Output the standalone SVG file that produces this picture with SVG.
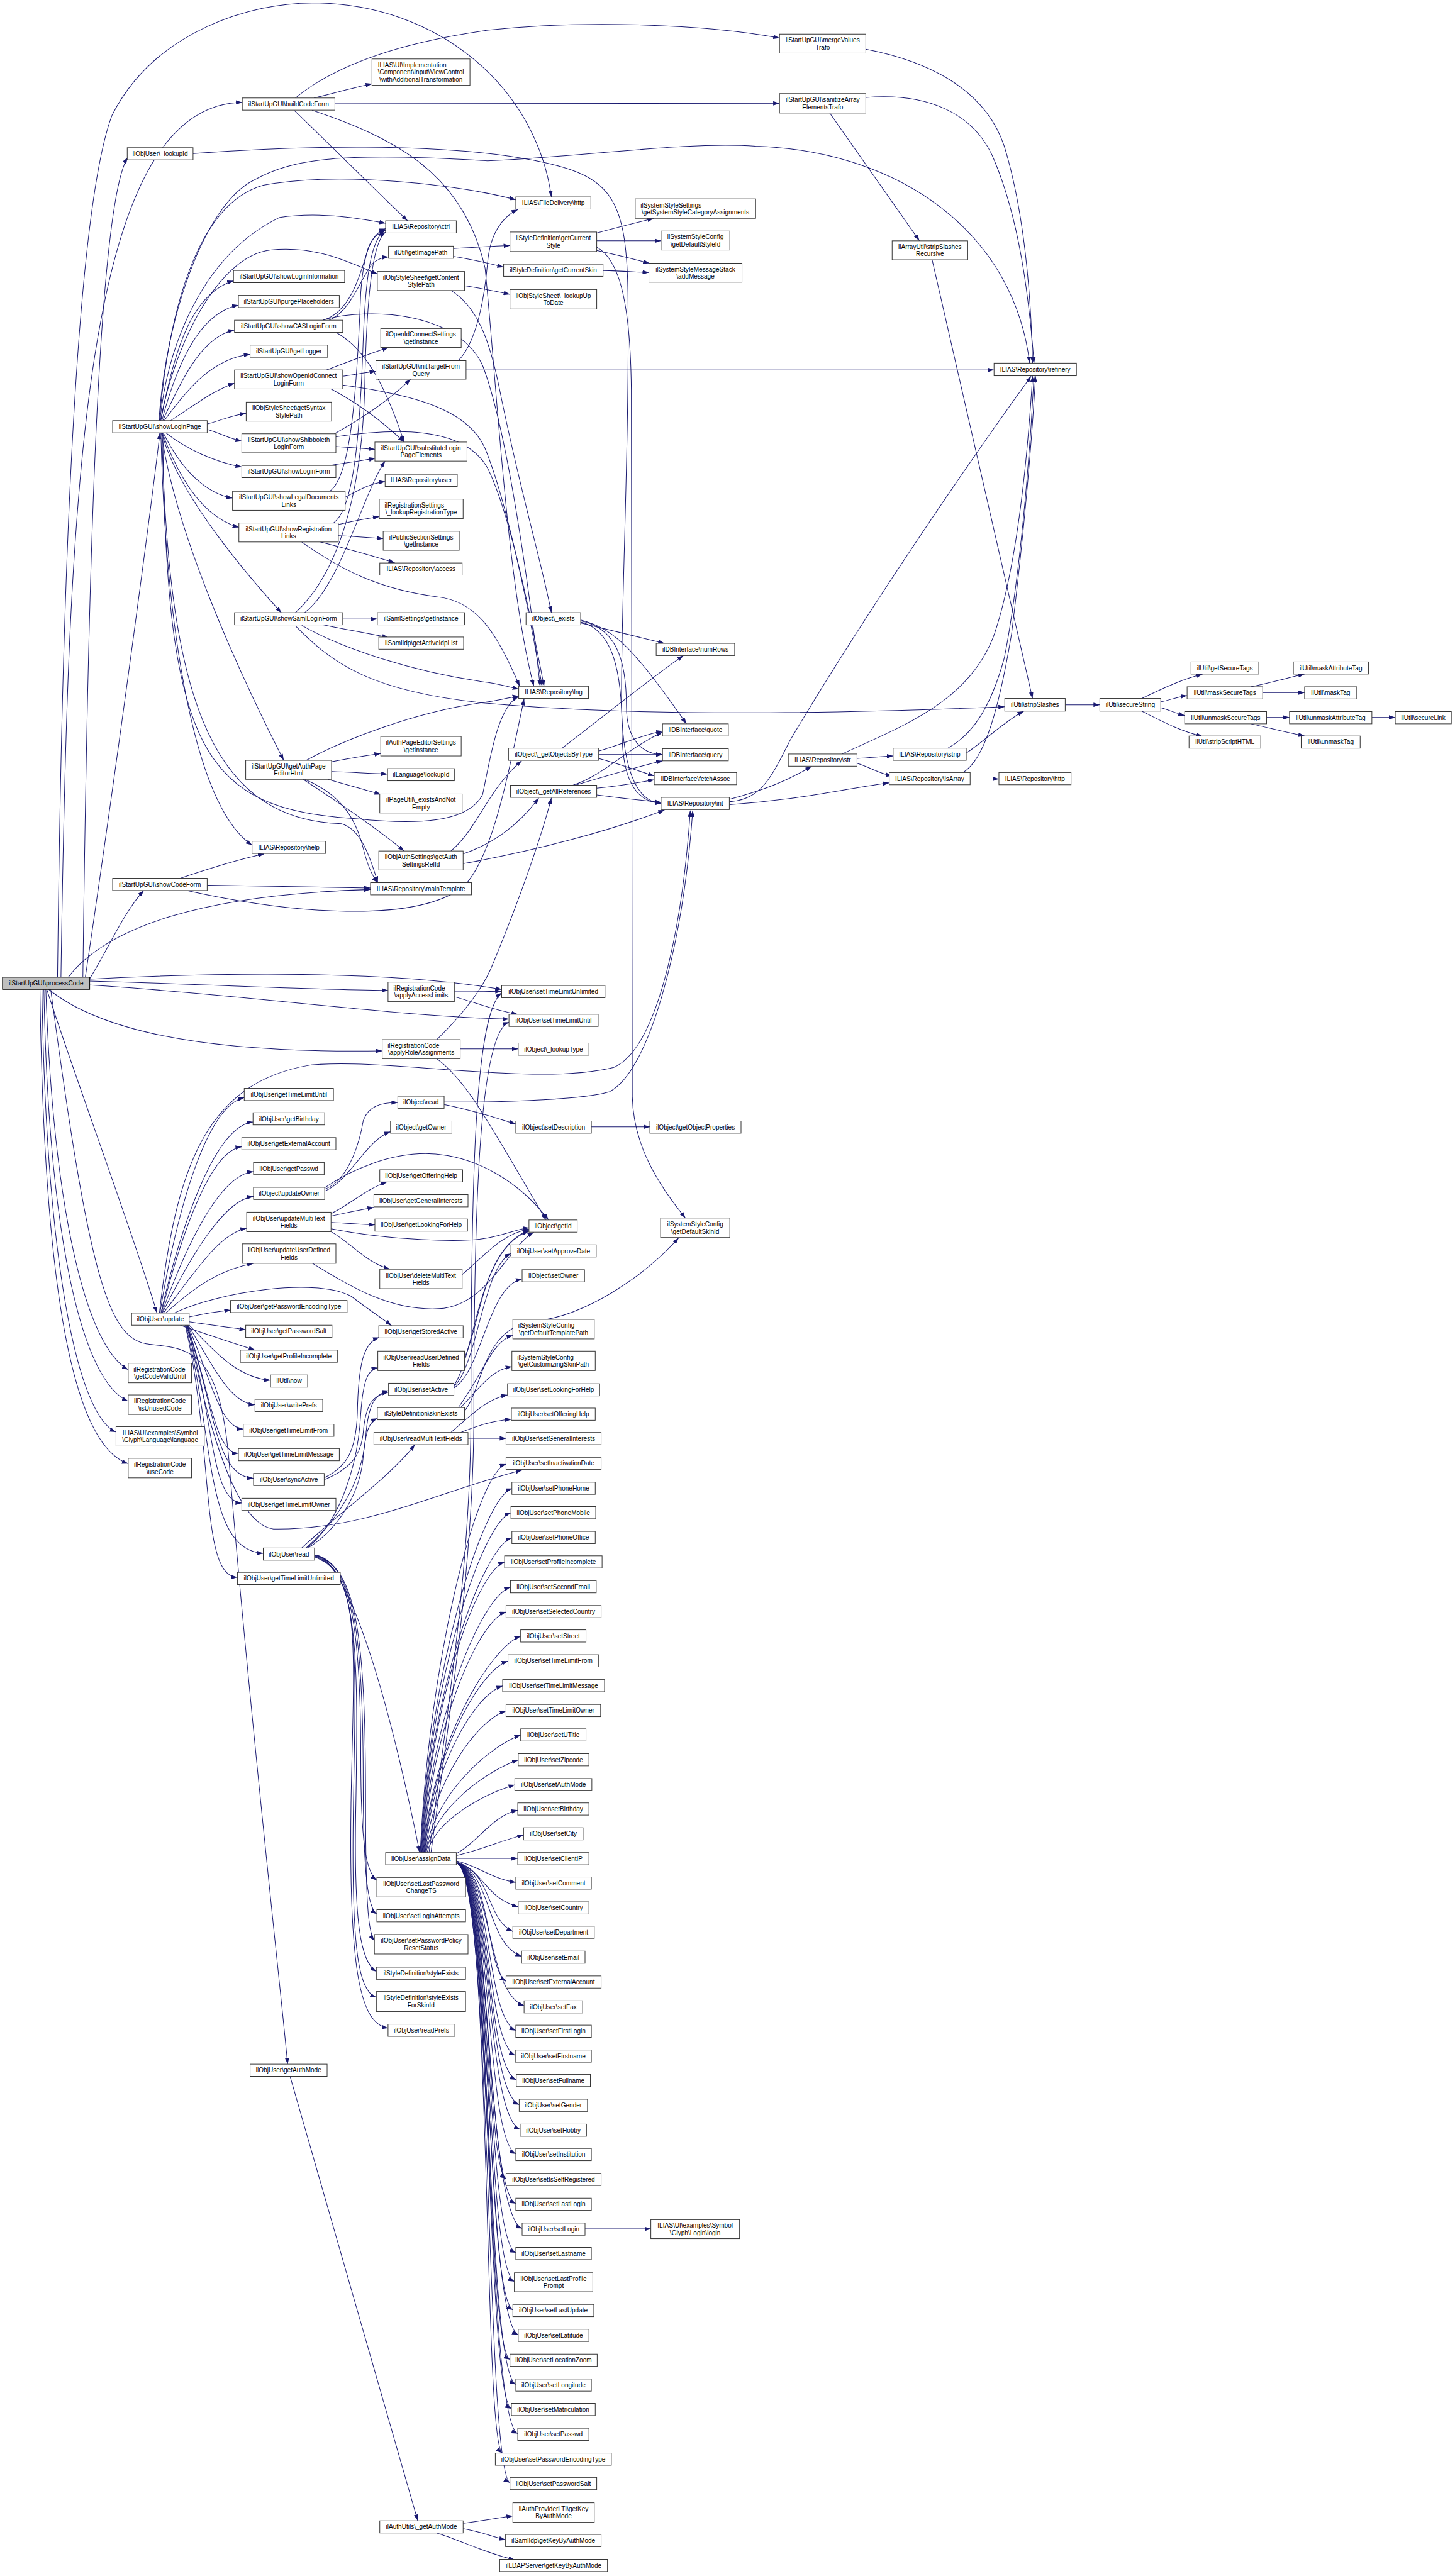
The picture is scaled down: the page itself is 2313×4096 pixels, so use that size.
<svg xmlns="http://www.w3.org/2000/svg" width="2313" height="4096" viewBox="0 0 2313 4096">
<style>
#edges path{fill:none;stroke:#191970;stroke-width:1.3;marker-end:url(#arr)}
#nodes rect{fill:#fff;stroke:#333;stroke-width:1.3}
#nodes text{font-family:"Liberation Sans",Arial,Helvetica,sans-serif;font-size:13px;fill:#000;text-anchor:middle}
#nodes text.l{text-anchor:start}
#n_pc rect{fill:#bfbfbf;stroke:#000}
</style>
<defs>
<marker id="arr" viewBox="0 0 13 9" refX="13" refY="4.5" markerWidth="13" markerHeight="9" markerUnits="userSpaceOnUse" orient="auto"><path d="M0,0 L13,4.5 L0,9 z" fill="#191970"/></marker>
</defs>
<rect width="2313" height="4096" fill="#fff"/>
<g transform="scale(0.775)">
<g id="edges">
<path d="M170,2005 C180,1200 200,420 262,323"/>
<path d="M125,2005 C140,1000 170,215 497,210"/>
<path d="M118,2005 C128,1100 160,420 230,236 C320,60 520,6 640,6 C900,6 1100,180 1131,404"/>
<path d="M175,2005 C250,1500 315,1000 328,888"/>
<path d="M184,2008 C220,1950 255,1870 295,1827"/>
<path d="M140,2005 C220,1900 420,1835 760,1825"/>
<path d="M184,2013 C450,2020 600,2030 796,2032"/>
<path d="M184,2021 C500,2040 800,2085 1044,2091"/>
<path d="M184,2009 C450,1995 800,1990 1029,2030"/>
<path d="M100,2030 C200,2110 400,2162 784,2156"/>
<path d="M96,2030 C150,2200 280,2550 322,2694"/>
<path d="M94,2030 C110,2500 180,2765 263,2810"/>
<path d="M90,2030 C100,2550 170,2835 263,2875"/>
<path d="M86,2030 C95,2600 160,2905 238,2938"/>
<path d="M82,2030 C90,2650 150,2965 263,3003"/>
<path d="M104,2030 C180,2600 220,2745 300,2757 C385,2768 450,2760 470,3000 C510,3500 578,4100 590,4235"/>
<path d="M330,863 C360,700 400,600 479,576"/>
<path d="M332,863 C370,720 420,640 489,626"/>
<path d="M334,863 C380,760 420,690 481,677"/>
<path d="M337,863 C390,790 440,735 513,727"/>
<path d="M350,863 C400,830 440,800 481,786"/>
<path d="M328,863 C345,700 420,520 574,446 C650,435 720,445 791,458"/>
<path d="M329,863 C360,700 450,525 555,513 C650,503 720,540 774,562"/>
<path d="M327,863 C345,650 400,420 540,380 C700,350 950,380 1058,410"/>
<path d="M326,863 C340,650 420,420 520,370 C600,325 700,312 1000,330 C1200,322 1400,290 1550,300 C1850,310 2080,480 2112,745"/>
<path d="M425,870 C460,860 480,851 505,848"/>
<path d="M425,881 C455,890 470,900 496,905"/>
<path d="M340,888 C380,920 440,948 496,958"/>
<path d="M335,888 C370,960 420,1012 477,1022"/>
<path d="M333,888 C370,990 420,1062 490,1082"/>
<path d="M332,888 C360,1000 480,1150 577,1257"/>
<path d="M331,888 C360,1100 500,1400 582,1560"/>
<path d="M330,888 C340,1300 400,1655 517,1734"/>
<path d="M332,888 C345,1400 420,1682 700,1690 C740,1700 760,1760 775,1811"/>
<path d="M334,888 C340,1550 420,1660 733,1680 C850,1692 960,1690 990,1630 C1005,1560 1020,1450 1064,1429"/>
<path d="M644,201 C690,190 720,181 763,172"/>
<path d="M606,201 C680,140 800,90 1000,62 C1200,40 1450,50 1599,78"/>
<path d="M687,213 C1000,213 1300,212 1599,212"/>
<path d="M603,226 C680,300 780,400 836,453"/>
<path d="M640,226 C800,280 950,350 995,550 C1020,800 1040,1200 1095,1408"/>
<path d="M396,315 C600,300 900,290 1100,330 C1250,360 1285,400 1288,600 C1292,900 1272,1300 1275,1450 C1278,1600 1315,1646 1356,1648"/>
<path d="M1224,507 C1265,530 1293,600 1295,800 L1297,2250 C1299,2350 1350,2430 1406,2499"/>
<path d="M1224,478 C1260,468 1300,458 1341,448"/>
<path d="M1224,494 C1280,494 1310,494 1356,494"/>
<path d="M1224,514 C1270,524 1300,532 1332,540"/>
<path d="M1237,555 C1280,556 1300,558 1331,559"/>
<path d="M930,510 C980,507 1010,505 1046,504"/>
<path d="M930,526 C970,532 1000,540 1033,548"/>
<path d="M940,740 C980,700 995,600 1000,540 C1005,480 1030,445 1062,430"/>
<path d="M953,586 C990,592 1020,598 1046,604"/>
<path d="M925,596 C980,630 1005,700 1025,800 C1065,1000 1110,1150 1131,1257"/>
<path d="M663,657 C720,640 740,560 755,510 C762,490 775,478 791,473"/>
<path d="M675,657 C720,640 745,560 765,540 C775,531 785,528 797,527"/>
<path d="M689,682 C760,720 800,820 829,907"/>
<path d="M663,656 C760,630 940,640 990,750 C1040,880 1085,1200 1108,1408"/>
<path d="M670,759 C720,740 760,725 797,713"/>
<path d="M703,772 C730,768 750,764 771,762"/>
<path d="M679,798 C740,830 790,870 829,907"/>
<path d="M703,790 C850,810 960,840 995,920 C1040,1030 1085,1250 1112,1408"/>
<path d="M686,890 C740,860 800,820 842,778"/>
<path d="M689,916 C720,918 745,920 769,922"/>
<path d="M689,896 C800,880 950,870 1000,960 C1050,1060 1095,1300 1116,1408"/>
<path d="M676,955 C720,948 750,944 770,940"/>
<path d="M956,759 L2039,759"/>
<path d="M708,1020 C740,1003 760,992 790,988"/>
<path d="M676,1008 C720,980 732,800 740,600 C746,520 760,480 791,469"/>
<path d="M694,1076 C730,1068 750,1064 778,1060"/>
<path d="M694,1099 C730,1101 760,1103 786,1105"/>
<path d="M657,1112 C720,1128 770,1142 810,1155"/>
<path d="M684,1073 C725,1045 738,900 745,700 C750,560 762,490 791,471"/>
<path d="M619,1112 C700,1170 780,1210 900,1225 C980,1235 1020,1300 1066,1408"/>
<path d="M703,1270 L774,1270"/>
<path d="M663,1282 C710,1292 760,1300 797,1308"/>
<path d="M606,1257 C700,1170 742,1000 748,800 C752,600 765,495 791,476"/>
<path d="M625,1257 C700,1200 745,1010 790,946"/>
<path d="M619,1283 C700,1330 850,1380 1000,1400 C1030,1405 1048,1410 1064,1414"/>
<path d="M606,1284 C680,1360 760,1420 1000,1443 C1300,1470 1700,1465 2061,1450"/>
<path d="M680,1563 C720,1555 750,1550 781,1546"/>
<path d="M680,1583 C730,1585 760,1587 795,1588"/>
<path d="M673,1599 C710,1610 750,1620 781,1630"/>
<path d="M622,1599 C700,1650 780,1705 829,1746"/>
<path d="M625,1599 C700,1630 730,1680 745,1740 C755,1780 765,1800 775,1811"/>
<path d="M628,1560 C700,1520 850,1460 1000,1440 C1030,1436 1048,1430 1064,1428"/>
<path d="M925,1746 C980,1700 1000,1620 1070,1561"/>
<path d="M950,1752 C1000,1735 1060,1700 1105,1637"/>
<path d="M950,1772 C1100,1745 1250,1705 1363,1662"/>
<path d="M370,1802 C420,1785 480,1765 542,1752"/>
<path d="M425,1816 C550,1818 650,1820 760,1822"/>
<path d="M383,1827 C600,1875 850,1895 950,1820 C1010,1760 1040,1600 1075,1434"/>
<path d="M1191,1278 C1260,1295 1320,1310 1363,1320"/>
<path d="M1191,1272 C1260,1290 1300,1330 1408,1485"/>
<path d="M1191,1274 C1262,1288 1285,1350 1285,1450 C1285,1520 1320,1548 1359,1548"/>
<path d="M1191,1276 C1258,1292 1276,1380 1276,1500 C1276,1610 1310,1646 1356,1648"/>
<path d="M1153,1535 C1250,1460 1350,1380 1402,1345"/>
<path d="M1228,1541 C1290,1522 1320,1507 1359,1500"/>
<path d="M1228,1548 C1280,1548 1310,1548 1359,1548"/>
<path d="M1228,1556 C1280,1570 1310,1582 1342,1592"/>
<path d="M1175,1611 C1240,1590 1280,1540 1359,1502"/>
<path d="M1180,1611 C1250,1590 1300,1575 1359,1561"/>
<path d="M1224,1617 C1280,1612 1310,1605 1342,1600"/>
<path d="M1224,1631 C1280,1638 1320,1643 1356,1646"/>
<path d="M1496,1640 C1570,1620 1620,1600 1665,1572"/>
<path d="M1496,1651 C1650,1640 1750,1615 1824,1606"/>
<path d="M1496,1645 C1560,1640 1580,1600 1620,1520 C1750,1300 1950,1000 2115,772"/>
<path d="M1758,1556 C1790,1554 1810,1552 1832,1551"/>
<path d="M1758,1566 C1790,1576 1800,1586 1830,1592"/>
<path d="M1727,1547 C1850,1490 1990,1440 2040,1300 C2090,1150 2110,900 2118,772"/>
<path d="M1982,1545 C2020,1520 2060,1480 2100,1459"/>
<path d="M1944,1535 C1990,1510 2030,1460 2060,1350 C2090,1200 2112,950 2121,772"/>
<path d="M1990,1598 L2049,1598"/>
<path d="M1975,1585 C2020,1560 2050,1450 2075,1300 C2100,1100 2117,900 2124,772"/>
<path d="M1776,101 C1900,125 2020,180 2060,300 C2100,430 2115,600 2118,745"/>
<path d="M1776,200 C1900,190 2000,230 2040,330 C2090,450 2110,600 2121,745"/>
<path d="M1702,232 L1886,494"/>
<path d="M1912,533 L2118,1433"/>
<path d="M2185,1446 L2256,1446"/>
<path d="M2342,1433 C2380,1415 2420,1395 2467,1383"/>
<path d="M2381,1440 C2400,1436 2415,1430 2435,1427"/>
<path d="M2381,1452 C2400,1458 2415,1464 2430,1468"/>
<path d="M2342,1459 C2380,1478 2420,1500 2467,1511"/>
<path d="M2566,1409 C2610,1400 2640,1391 2676,1383"/>
<path d="M2590,1421 L2676,1421"/>
<path d="M2598,1472 L2645,1472"/>
<path d="M2566,1485 C2610,1495 2640,1503 2676,1510"/>
<path d="M2814,1472 L2862,1472"/>
<path d="M932,2035 C980,2035 1000,2034 1029,2034"/>
<path d="M932,2045 C980,2058 1010,2072 1062,2081"/>
<path d="M944,2152 L1063,2152"/>
<path d="M896,2172 C960,2220 1000,2300 1120,2503"/>
<path d="M896,2133 C950,2080 990,2030 1010,1980 C1060,1860 1110,1720 1131,1637"/>
<path d="M911,2266 C980,2280 1020,2295 1058,2306"/>
<path d="M911,2261 C1050,2262 1200,2255 1250,2240 C1330,2200 1400,1950 1421,1663"/>
<path d="M1213,2312 L1333,2312"/>
<path d="M666,2440 C720,2420 740,2330 745,2300 C755,2270 780,2262 816,2262"/>
<path d="M666,2444 C720,2420 750,2340 801,2322"/>
<path d="M666,2437 C720,2400 800,2365 880,2367 C980,2370 1070,2430 1125,2503"/>
<path d="M679,2490 C720,2470 750,2440 794,2425"/>
<path d="M679,2495 C710,2488 740,2482 767,2477"/>
<path d="M679,2508 C720,2510 740,2512 769,2513"/>
<path d="M679,2527 C720,2550 750,2590 800,2604"/>
<path d="M679,2521 C800,2545 950,2550 1000,2540 C1040,2532 1060,2522 1085,2519"/>
<path d="M641,2592 C720,2640 800,2690 900,2685 C1000,2680 1040,2560 1095,2528"/>
<path d="M948,2615 C990,2580 1030,2530 1085,2522"/>
<path d="M953,2785 C985,2720 990,2560 1085,2524"/>
<path d="M931,2845 C980,2800 990,2600 1048,2572"/>
<path d="M931,2848 C990,2810 1000,2640 1071,2624"/>
<path d="M931,2843 C975,2780 980,2560 1085,2526"/>
<path d="M953,2895 C990,2850 990,2720 1100,2710 C1200,2700 1320,2620 1392,2540"/>
<path d="M940,2888 C990,2820 1010,2750 1052,2740"/>
<path d="M945,2888 C990,2840 1010,2810 1050,2804"/>
<path d="M925,2939 C970,2900 1000,2870 1041,2862"/>
<path d="M945,2939 C980,2925 1010,2915 1049,2912"/>
<path d="M960,2951 L1038,2951"/>
<path d="M328,2694 C360,2500 420,2270 501,2252"/>
<path d="M330,2694 C370,2520 440,2310 519,2302"/>
<path d="M331,2694 C370,2540 430,2360 496,2353"/>
<path d="M332,2694 C380,2560 450,2410 520,2404"/>
<path d="M333,2694 C390,2580 460,2460 520,2455"/>
<path d="M335,2694 C400,2610 450,2530 506,2520"/>
<path d="M340,2694 C400,2640 450,2605 520,2592"/>
<path d="M327,2694 C360,2400 420,2220 638,2185 C800,2170 1100,2230 1259,2190 C1350,2150 1400,1900 1416,1663"/>
<path d="M357,2694 C450,2650 650,2620 721,2660 C760,2690 785,2705 803,2720"/>
<path d="M388,2702 C420,2695 440,2691 473,2688"/>
<path d="M388,2712 C430,2718 470,2724 504,2728"/>
<path d="M370,2719 C430,2740 480,2756 523,2770"/>
<path d="M386,2717 C430,2760 480,2826 555,2832"/>
<path d="M386,2719 C430,2790 470,2880 523,2882"/>
<path d="M385,2719 C430,2820 450,2930 499,2932"/>
<path d="M384,2719 C430,2850 440,2980 489,2982"/>
<path d="M383,2719 C440,2880 440,3030 520,3033"/>
<path d="M382,2719 C440,2900 430,3080 496,3084"/>
<path d="M381,2719 C440,2950 420,3180 540,3187"/>
<path d="M380,2719 C440,2980 410,3235 487,3236"/>
<path d="M385,2719 C440,3000 500,3130 561,3137 C750,3140 900,3060 1071,3016"/>
<path d="M619,3176 C700,3100 800,3030 851,2964"/>
<path d="M628,3176 C690,3120 740,3050 750,2950 C755,2880 770,2860 797,2853"/>
<path d="M630,3176 C700,3120 735,3000 740,2900 C745,2830 755,2810 775,2806"/>
<path d="M632,3176 C705,3130 740,3050 745,2990 C750,2930 760,2916 774,2910"/>
<path d="M645,3190 C700,3195 780,3400 861,3801"/>
<path d="M645,3190 C720,3200 740,3350 740,3600 C740,3780 750,3840 773,3858"/>
<path d="M645,3191 C725,3205 745,3350 745,3650 C745,3850 755,3915 773,3927"/>
<path d="M645,3192 C730,3210 750,3350 750,3700 C750,3900 755,3965 768,3982"/>
<path d="M645,3193 C735,3215 735,3400 730,3700 C725,3950 740,4025 772,4045"/>
<path d="M645,3194 C740,3220 730,3400 725,3700 C720,4000 735,4085 772,4098"/>
<path d="M645,3195 C745,3225 725,3400 720,3700 C715,4050 740,4152 796,4161"/>
<path d="M665,3032 C710,3010 730,2980 733,2900 C735,2800 745,2755 778,2744"/>
<path d="M665,3036 C715,3015 740,2990 745,2940 C750,2880 765,2862 797,2856"/>
<path d="M595,4260 L857,5172"/>
<path d="M950,5177 C990,5172 1020,5166 1052,5162"/>
<path d="M950,5188 C990,5195 1010,5205 1037,5211"/>
<path d="M896,5197 C940,5210 1000,5240 1056,5252"/>
<path d="M1200,4573 L1335,4573"/>
<path d="M880,3801 C920,3500 966,3200 966,2900 C966,2400 975,2080 1029,2037"/>
<path d="M884,3801 C925,3500 972,3200 972,2900 C972,2450 985,2120 1044,2097"/>
<path d="M862,3801 C880,3402 978,3023 1038,3004"/>
<path d="M863,3801 C880,3427 990,3074 1050,3054"/>
<path d="M864,3801 C880,3452 988,3124 1048,3104"/>
<path d="M865,3801 C880,3478 990,3175 1050,3155"/>
<path d="M866,3801 C882,3503 975,3225 1035,3205"/>
<path d="M867,3801 C882,3528 987,3276 1047,3256"/>
<path d="M868,3801 C884,3554 978,3327 1038,3307"/>
<path d="M869,3801 C884,3579 1008,3377 1068,3357"/>
<path d="M870,3801 C886,3604 982,3428 1042,3408"/>
<path d="M871,3801 C886,3630 971,3479 1031,3459"/>
<path d="M872,3801 C888,3655 978,3530 1038,3510"/>
<path d="M873,3801 C890,3680 1008,3580 1068,3560"/>
<path d="M874,3801 C892,3706 1003,3631 1063,3611"/>
<path d="M876,3801 C895,3731 996,3680 1056,3662"/>
<path d="M936,3803 C980,3780 1010,3725 1062,3714"/>
<path d="M936,3807 C990,3795 1030,3775 1074,3765"/>
<path d="M936,3813 L1062,3813"/>
<path d="M936,3818 C980,3828 1010,3855 1058,3862"/>
<path d="M936,3820 C990,3835 995,3895 1063,3912"/>
<path d="M936,3822 C1010,3840 995,3935 1052,3963"/>
<path d="M936,3822 C1010,3840 995,3986 1070,4014"/>
<path d="M936,3822 C1010,3840 995,4037 1038,4065"/>
<path d="M936,3822 C1010,3840 995,4087 1075,4115"/>
<path d="M936,3822 C1010,3840 995,4138 1058,4166"/>
<path d="M936,3822 C1010,3840 995,4189 1057,4217"/>
<path d="M936,3822 C1010,3840 995,4239 1059,4267"/>
<path d="M936,3822 C1010,3840 995,4290 1065,4318"/>
<path d="M936,3822 C1010,3840 995,4341 1067,4369"/>
<path d="M936,3822 C1010,3840 995,4391 1058,4419"/>
<path d="M936,3822 C1010,3840 995,4442 1038,4470"/>
<path d="M936,3822 C1010,3840 995,4493 1058,4521"/>
<path d="M936,3822 C1010,3840 995,4544 1071,4572"/>
<path d="M936,3822 C1010,3840 995,4594 1058,4622"/>
<path d="M936,3822 C1010,3840 995,4653 1055,4681"/>
<path d="M936,3822 C1010,3840 995,4711 1052,4739"/>
<path d="M936,3822 C1010,3840 995,4762 1063,4790"/>
<path d="M936,3822 C1010,3840 995,4813 1046,4841"/>
<path d="M936,3822 C1010,3840 995,4864 1058,4892"/>
<path d="M936,3822 C1010,3840 995,4914 1049,4942"/>
<path d="M936,3822 C1010,3840 995,4965 1062,4993"/>
<path d="M936,3822 C1010,3840 990,5000 1030,5033"/>
<path d="M936,3822 C1010,3840 995,5066 1046,5094"/>
</g>
<g id="nodes">
<g id="n_pc"><rect x="5" y="2005" width="179" height="25"/><text x="94.5" y="2022">ilStartUpGUI\processCode</text></g>
<g id="n_lookupId"><rect x="261" y="303" width="135" height="25"/><text x="328.5" y="320">ilObjUser\_lookupId</text></g>
<g id="n_build"><rect x="497" y="201" width="190" height="25"/><text x="592" y="218">ilStartUpGUI\buildCodeForm</text></g>
<g id="n_slp"><rect x="231" y="863" width="194" height="25"/><text x="328" y="880">ilStartUpGUI\showLoginPage</text></g>
<g id="n_scf"><rect x="231" y="1802" width="194" height="25"/><text x="328" y="1819">ilStartUpGUI\showCodeForm</text></g>
<g id="n_upd"><rect x="270" y="2694" width="118" height="25"/><text x="329" y="2711">ilObjUser\update</text></g>
<g id="n_cvu"><rect x="263" y="2797" width="130" height="40"/><text class="l" x="274" y="2814.3">ilRegistrationCode</text><text x="328" y="2829">\getCodeValidUntil</text></g>
<g id="n_iuc"><rect x="263" y="2862" width="130" height="40"/><text x="328" y="2879.3">ilRegistrationCode</text><text x="328" y="2894">\isUnusedCode</text></g>
<g id="n_lang"><rect x="238" y="2927" width="181" height="40"/><text x="328.5" y="2944.3">ILIAS\UI\examples\Symbol</text><text x="328.5" y="2959">\Glyph\Language\language</text></g>
<g id="n_use"><rect x="263" y="2992" width="130" height="40"/><text x="328" y="3009.3">ilRegistrationCode</text><text x="328" y="3024">\useCode</text></g>
<g id="n_wat"><rect x="763" y="121" width="201" height="54"/><text class="l" x="775" y="137.9">ILIAS\UI\Implementation</text><text class="l" x="775" y="152.6">\Component\Input\ViewControl</text><text x="863.5" y="167.3">\withAdditionalTransformation</text></g>
<g id="n_sli"><rect x="479" y="555" width="228" height="25"/><text x="593" y="572">ilStartUpGUI\showLoginInformation</text></g>
<g id="n_pp"><rect x="489" y="606" width="207" height="25"/><text x="592.5" y="623">ilStartUpGUI\purgePlaceholders</text></g>
<g id="n_cas"><rect x="481" y="657" width="222" height="25"/><text x="592" y="674">ilStartUpGUI\showCASLoginForm</text></g>
<g id="n_log"><rect x="513" y="708" width="159" height="25"/><text x="592.5" y="725">ilStartUpGUI\getLogger</text></g>
<g id="n_oidc"><rect x="481" y="759" width="222" height="39"/><text x="592" y="775.8">ilStartUpGUI\showOpenIdConnect</text><text x="592" y="790.5">LoginForm</text></g>
<g id="n_syn"><rect x="505" y="825" width="175" height="39"/><text x="592.5" y="841.8">ilObjStyleSheet\getSyntax</text><text x="592.5" y="856.5">StylePath</text></g>
<g id="n_shib"><rect x="496" y="890" width="193" height="39"/><text x="592.5" y="906.8">ilStartUpGUI\showShibboleth</text><text x="592.5" y="921.5">LoginForm</text></g>
<g id="n_slf"><rect x="496" y="955" width="193" height="25"/><text x="592.5" y="972">ilStartUpGUI\showLoginForm</text></g>
<g id="n_legal"><rect x="477" y="1008" width="231" height="39"/><text x="592.5" y="1024.8">ilStartUpGUI\showLegalDocuments</text><text x="592.5" y="1039.5">Links</text></g>
<g id="n_reg"><rect x="490" y="1073" width="204" height="39"/><text x="592" y="1089.8">ilStartUpGUI\showRegistration</text><text x="592" y="1104.5">Links</text></g>
<g id="n_saml"><rect x="481" y="1257" width="222" height="25"/><text x="592" y="1274">ilStartUpGUI\showSamlLoginForm</text></g>
<g id="n_apeh"><rect x="504" y="1560" width="176" height="39"/><text x="592" y="1576.8">ilStartUpGUI\getAuthPage</text><text x="592" y="1591.5">EditorHtml</text></g>
<g id="n_help"><rect x="517" y="1726" width="151" height="25"/><text x="592.5" y="1743">ILIAS\Repository\help</text></g>
<g id="n_gtlu"><rect x="501" y="2233" width="183" height="25"/><text x="592.5" y="2250">ilObjUser\getTimeLimitUntil</text></g>
<g id="n_gbd"><rect x="519" y="2283" width="147" height="25"/><text x="592.5" y="2300">ilObjUser\getBirthday</text></g>
<g id="n_gea"><rect x="496" y="2334" width="193" height="25"/><text x="592.5" y="2351">ilObjUser\getExternalAccount</text></g>
<g id="n_gpw"><rect x="520" y="2385" width="145" height="25"/><text x="592.5" y="2402">ilObjUser\getPasswd</text></g>
<g id="n_uo"><rect x="520" y="2436" width="146" height="25"/><text x="593" y="2453">ilObject\updateOwner</text></g>
<g id="n_umtf"><rect x="506" y="2487" width="173" height="40"/><text x="592.5" y="2504.3">ilObjUser\updateMultiText</text><text x="592.5" y="2519">Fields</text></g>
<g id="n_uudf"><rect x="497" y="2552" width="192" height="40"/><text x="593" y="2569.3">ilObjUser\updateUserDefined</text><text x="593" y="2584">Fields</text></g>
<g id="n_gpet"><rect x="473" y="2668" width="239" height="25"/><text x="592.5" y="2685">ilObjUser\getPasswordEncodingType</text></g>
<g id="n_gps"><rect x="504" y="2719" width="177" height="25"/><text x="592.5" y="2736">ilObjUser\getPasswordSalt</text></g>
<g id="n_gpi"><rect x="493" y="2770" width="199" height="25"/><text x="592.5" y="2787">ilObjUser\getProfileIncomplete</text></g>
<g id="n_now"><rect x="555" y="2821" width="76" height="25"/><text x="593" y="2838">ilUtil\now</text></g>
<g id="n_wp"><rect x="523" y="2871" width="139" height="25"/><text x="592.5" y="2888">ilObjUser\writePrefs</text></g>
<g id="n_gtlf"><rect x="499" y="2922" width="186" height="25"/><text x="592" y="2939">ilObjUser\getTimeLimitFrom</text></g>
<g id="n_gtlm"><rect x="489" y="2972" width="207" height="25"/><text x="592.5" y="2989">ilObjUser\getTimeLimitMessage</text></g>
<g id="n_sync"><rect x="520" y="3023" width="145" height="25"/><text x="592.5" y="3040">ilObjUser\syncActive</text></g>
<g id="n_gtlo"><rect x="496" y="3074" width="193" height="25"/><text x="592.5" y="3091">ilObjUser\getTimeLimitOwner</text></g>
<g id="n_uread"><rect x="540" y="3176" width="105" height="25"/><text x="592.5" y="3193">ilObjUser\read</text></g>
<g id="n_gtlun"><rect x="487" y="3226" width="211" height="25"/><text x="592.5" y="3243">ilObjUser\getTimeLimitUnlimited</text></g>
<g id="n_gam"><rect x="513" y="4235" width="158" height="25"/><text x="592" y="4252">ilObjUser\getAuthMode</text></g>
<g id="n_ctrl"><rect x="791" y="453" width="145" height="25"/><text x="863.5" y="470">ILIAS\Repository\ctrl</text></g>
<g id="n_gip"><rect x="797" y="505" width="133" height="25"/><text x="863.5" y="522">ilUtil\getImagePath</text></g>
<g id="n_gcsp"><rect x="774" y="557" width="179" height="39"/><text x="863.5" y="573.8">ilObjStyleSheet\getContent</text><text x="863.5" y="588.5">StylePath</text></g>
<g id="n_oidcgi"><rect x="781" y="674" width="165" height="39"/><text x="863.5" y="690.8">ilOpenIdConnectSettings</text><text x="863.5" y="705.5">\getInstance</text></g>
<g id="n_itfq"><rect x="771" y="740" width="185" height="38"/><text x="863.5" y="756.3">ilStartUpGUI\initTargetFrom</text><text x="863.5" y="771">Query</text></g>
<g id="n_slpe"><rect x="769" y="907" width="189" height="39"/><text x="863.5" y="923.8">ilStartUpGUI\substituteLogin</text><text x="863.5" y="938.5">PageElements</text></g>
<g id="n_user"><rect x="790" y="973" width="148" height="25"/><text x="864" y="990">ILIAS\Repository\user</text></g>
<g id="n_lrt"><rect x="778" y="1024" width="172" height="40"/><text class="l" x="789" y="1041.3">ilRegistrationSettings</text><text x="864" y="1056">\_lookupRegistrationType</text></g>
<g id="n_psgi"><rect x="786" y="1090" width="156" height="39"/><text x="864" y="1106.8">ilPublicSectionSettings</text><text x="864" y="1121.5">\getInstance</text></g>
<g id="n_access"><rect x="779" y="1155" width="169" height="25"/><text x="863.5" y="1172">ILIAS\Repository\access</text></g>
<g id="n_ssgi"><rect x="774" y="1257" width="179" height="25"/><text x="863.5" y="1274">ilSamlSettings\getInstance</text></g>
<g id="n_gail"><rect x="777" y="1307" width="174" height="25"/><text x="864" y="1324">ilSamlIdp\getActiveIdpList</text></g>
<g id="n_apes"><rect x="781" y="1511" width="165" height="40"/><text x="863.5" y="1528.3">ilAuthPageEditorSettings</text><text x="863.5" y="1543">\getInstance</text></g>
<g id="n_lid"><rect x="795" y="1577" width="137" height="25"/><text x="863.5" y="1594">ilLanguage\lookupId</text></g>
<g id="n_pu"><rect x="779" y="1629" width="169" height="39"/><text x="863.5" y="1645.8">ilPageUtil\_existsAndNot</text><text x="863.5" y="1660.5">Empty</text></g>
<g id="n_gasr"><rect x="777" y="1746" width="173" height="39"/><text x="863.5" y="1762.8">ilObjAuthSettings\getAuth</text><text x="863.5" y="1777.5">SettingsRefId</text></g>
<g id="n_mt"><rect x="760" y="1811" width="207" height="25"/><text x="863.5" y="1828">ILIAS\Repository\mainTemplate</text></g>
<g id="n_aal"><rect x="796" y="2015" width="136" height="40"/><text class="l" x="807" y="2032.3">ilRegistrationCode</text><text x="864" y="2047">\applyAccessLimits</text></g>
<g id="n_ara"><rect x="784" y="2133" width="160" height="39"/><text class="l" x="795" y="2149.8">ilRegistrationCode</text><text x="864" y="2164.5">\applyRoleAssignments</text></g>
<g id="n_oread"><rect x="816" y="2249" width="95" height="25"/><text x="863.5" y="2266">ilObject\read</text></g>
<g id="n_gown"><rect x="801" y="2300" width="126" height="25"/><text x="864" y="2317">ilObject\getOwner</text></g>
<g id="n_goh"><rect x="779" y="2400" width="170" height="25"/><text x="864" y="2417">ilObjUser\getOfferingHelp</text></g>
<g id="n_ggi"><rect x="767" y="2451" width="193" height="25"/><text x="863.5" y="2468">ilObjUser\getGeneralInterests</text></g>
<g id="n_glfh"><rect x="769" y="2501" width="190" height="25"/><text x="864" y="2518">ilObjUser\getLookingForHelp</text></g>
<g id="n_dmtf"><rect x="779" y="2604" width="169" height="40"/><text x="863.5" y="2621.3">ilObjUser\deleteMultiText</text><text x="863.5" y="2636">Fields</text></g>
<g id="n_gsa"><rect x="777" y="2720" width="173" height="25"/><text x="863.5" y="2737">ilObjUser\getStoredActive</text></g>
<g id="n_rudf"><rect x="775" y="2772" width="178" height="40"/><text x="864" y="2789.3">ilObjUser\readUserDefined</text><text x="864" y="2804">Fields</text></g>
<g id="n_sa"><rect x="797" y="2838" width="134" height="25"/><text x="864" y="2855">ilObjUser\setActive</text></g>
<g id="n_se"><rect x="774" y="2888" width="179" height="25"/><text x="863.5" y="2905">ilStyleDefinition\skinExists</text></g>
<g id="n_rmtf"><rect x="767" y="2939" width="193" height="25"/><text x="863.5" y="2956">ilObjUser\readMultiTextFields</text></g>
<g id="n_ad"><rect x="791" y="3801" width="145" height="25"/><text x="863.5" y="3818">ilObjUser\assignData</text></g>
<g id="n_slpc"><rect x="773" y="3852" width="182" height="40"/><text x="864" y="3869.3">ilObjUser\setLastPassword</text><text x="864" y="3884">ChangeTS</text></g>
<g id="n_sla"><rect x="773" y="3918" width="182" height="25"/><text x="864" y="3935">ilObjUser\setLoginAttempts</text></g>
<g id="n_sprs"><rect x="768" y="3969" width="192" height="40"/><text x="864" y="3986.3">ilObjUser\setPasswordPolicy</text><text x="864" y="4001">ResetStatus</text></g>
<g id="n_stex"><rect x="772" y="4036" width="183" height="25"/><text x="863.5" y="4053">ilStyleDefinition\styleExists</text></g>
<g id="n_stexs"><rect x="772" y="4086" width="183" height="41"/><text x="863.5" y="4103.8">ilStyleDefinition\styleExists</text><text x="863.5" y="4118.5">ForSkinId</text></g>
<g id="n_rp"><rect x="796" y="4153" width="137" height="25"/><text x="864.5" y="4170">ilObjUser\readPrefs</text></g>
<g id="n_gam2"><rect x="779" y="5172" width="171" height="25"/><text x="864.5" y="5189">ilAuthUtils\_getAuthMode</text></g>
<g id="n_fdh"><rect x="1058" y="404" width="154" height="25"/><text x="1135" y="421">ILIAS\FileDelivery\http</text></g>
<g id="n_gcs"><rect x="1046" y="476" width="178" height="40"/><text x="1135" y="493.3">ilStyleDefinition\getCurrent</text><text x="1135" y="508">Style</text></g>
<g id="n_gcsk"><rect x="1033" y="542" width="204" height="25"/><text x="1135" y="559">ilStyleDefinition\getCurrentSkin</text></g>
<g id="n_luut"><rect x="1046" y="594" width="178" height="40"/><text x="1135" y="611.3">ilObjStyleSheet\_lookupUp</text><text x="1135" y="626">ToDate</text></g>
<g id="n_ex"><rect x="1079" y="1257" width="112" height="25"/><text x="1135" y="1274">ilObject\_exists</text></g>
<g id="n_lng"><rect x="1064" y="1408" width="143" height="25"/><text x="1135.5" y="1425">ILIAS\Repository\lng</text></g>
<g id="n_gobt"><rect x="1043" y="1535" width="185" height="25"/><text x="1135.5" y="1552">ilObject\_getObjectsByType</text></g>
<g id="n_gar"><rect x="1047" y="1611" width="177" height="25"/><text x="1135.5" y="1628">ilObject\_getAllReferences</text></g>
<g id="n_stlun"><rect x="1029" y="2022" width="212" height="25"/><text x="1135" y="2039">ilObjUser\setTimeLimitUnlimited</text></g>
<g id="n_stlu"><rect x="1044" y="2081" width="183" height="25"/><text x="1135.5" y="2098">ilObjUser\setTimeLimitUntil</text></g>
<g id="n_lt"><rect x="1063" y="2140" width="145" height="25"/><text x="1135.5" y="2157">ilObject\_lookupType</text></g>
<g id="n_sd"><rect x="1058" y="2300" width="155" height="25"/><text x="1135.5" y="2317">ilObject\setDescription</text></g>
<g id="n_gid"><rect x="1085" y="2503" width="99" height="25"/><text x="1134.5" y="2520">ilObject\getId</text></g>
<g id="n_sad"><rect x="1048" y="2554" width="175" height="25"/><text x="1135.5" y="2571">ilObjUser\setApproveDate</text></g>
<g id="n_sown"><rect x="1071" y="2605" width="128" height="25"/><text x="1135" y="2622">ilObject\setOwner</text></g>
<g id="n_gdtp"><rect x="1052" y="2707" width="167" height="40"/><text class="l" x="1063" y="2724.3">ilSystemStyleConfig</text><text x="1135.5" y="2739">\getDefaultTemplatePath</text></g>
<g id="n_gcskp"><rect x="1050" y="2772" width="171" height="40"/><text class="l" x="1061" y="2789.3">ilSystemStyleConfig</text><text x="1135.5" y="2804">\getCustomizingSkinPath</text></g>
<g id="n_slfh"><rect x="1041" y="2839" width="189" height="25"/><text x="1135.5" y="2856">ilObjUser\setLookingForHelp</text></g>
<g id="n_soh"><rect x="1049" y="2889" width="172" height="25"/><text x="1135" y="2906">ilObjUser\setOfferingHelp</text></g>
<g id="n_sgi"><rect x="1038" y="2939" width="195" height="25"/><text x="1135.5" y="2956">ilObjUser\setGeneralInterests</text></g>
<g id="n_sid"><rect x="1038" y="2990" width="195" height="25"/><text x="1135.5" y="3007">ilObjUser\setInactivationDate</text></g>
<g id="n_sph"><rect x="1050" y="3041" width="171" height="25"/><text x="1135.5" y="3058">ilObjUser\setPhoneHome</text></g>
<g id="n_spm"><rect x="1048" y="3091" width="174" height="25"/><text x="1135" y="3108">ilObjUser\setPhoneMobile</text></g>
<g id="n_spo"><rect x="1050" y="3142" width="171" height="25"/><text x="1135.5" y="3159">ilObjUser\setPhoneOffice</text></g>
<g id="n_spi"><rect x="1035" y="3192" width="200" height="25"/><text x="1135" y="3209">ilObjUser\setProfileIncomplete</text></g>
<g id="n_sse"><rect x="1047" y="3243" width="176" height="25"/><text x="1135" y="3260">ilObjUser\setSecondEmail</text></g>
<g id="n_ssc"><rect x="1038" y="3294" width="195" height="25"/><text x="1135.5" y="3311">ilObjUser\setSelectedCountry</text></g>
<g id="n_sst2"><rect x="1068" y="3344" width="134" height="25"/><text x="1135" y="3361">ilObjUser\setStreet</text></g>
<g id="n_stlf"><rect x="1042" y="3395" width="186" height="25"/><text x="1135" y="3412">ilObjUser\setTimeLimitFrom</text></g>
<g id="n_stlm"><rect x="1031" y="3446" width="209" height="25"/><text x="1135.5" y="3463">ilObjUser\setTimeLimitMessage</text></g>
<g id="n_stlo"><rect x="1038" y="3497" width="194" height="25"/><text x="1135" y="3514">ilObjUser\setTimeLimitOwner</text></g>
<g id="n_sut"><rect x="1068" y="3547" width="134" height="25"/><text x="1135" y="3564">ilObjUser\setUTitle</text></g>
<g id="n_szc"><rect x="1063" y="3598" width="145" height="25"/><text x="1135.5" y="3615">ilObjUser\setZipcode</text></g>
<g id="n_sam"><rect x="1056" y="3649" width="158" height="25"/><text x="1135" y="3666">ilObjUser\setAuthMode</text></g>
<g id="n_sbd"><rect x="1062" y="3699" width="146" height="25"/><text x="1135" y="3716">ilObjUser\setBirthday</text></g>
<g id="n_scity"><rect x="1074" y="3750" width="122" height="25"/><text x="1135" y="3767">ilObjUser\setCity</text></g>
<g id="n_scip"><rect x="1062" y="3801" width="146" height="25"/><text x="1135" y="3818">ilObjUser\setClientIP</text></g>
<g id="n_scom"><rect x="1058" y="3851" width="155" height="25"/><text x="1135.5" y="3868">ilObjUser\setComment</text></g>
<g id="n_scou"><rect x="1063" y="3902" width="145" height="25"/><text x="1135.5" y="3919">ilObjUser\setCountry</text></g>
<g id="n_sdep"><rect x="1052" y="3952" width="167" height="25"/><text x="1135.5" y="3969">ilObjUser\setDepartment</text></g>
<g id="n_sem"><rect x="1070" y="4003" width="130" height="25"/><text x="1135" y="4020">ilObjUser\setEmail</text></g>
<g id="n_sea"><rect x="1038" y="4054" width="195" height="25"/><text x="1135.5" y="4071">ilObjUser\setExternalAccount</text></g>
<g id="n_sfax"><rect x="1075" y="4105" width="120" height="25"/><text x="1135" y="4122">ilObjUser\setFax</text></g>
<g id="n_sfl"><rect x="1058" y="4155" width="155" height="25"/><text x="1135.5" y="4172">ilObjUser\setFirstLogin</text></g>
<g id="n_sfn"><rect x="1057" y="4206" width="156" height="25"/><text x="1135" y="4223">ilObjUser\setFirstname</text></g>
<g id="n_sfun"><rect x="1059" y="4256" width="152" height="25"/><text x="1135" y="4273">ilObjUser\setFullname</text></g>
<g id="n_sgen"><rect x="1065" y="4307" width="140" height="25"/><text x="1135" y="4324">ilObjUser\setGender</text></g>
<g id="n_shob"><rect x="1067" y="4358" width="136" height="25"/><text x="1135" y="4375">ilObjUser\setHobby</text></g>
<g id="n_sins"><rect x="1058" y="4408" width="155" height="25"/><text x="1135.5" y="4425">ilObjUser\setInstitution</text></g>
<g id="n_sisr"><rect x="1038" y="4459" width="195" height="25"/><text x="1135.5" y="4476">ilObjUser\setIsSelfRegistered</text></g>
<g id="n_sll"><rect x="1058" y="4510" width="155" height="25"/><text x="1135.5" y="4527">ilObjUser\setLastLogin</text></g>
<g id="n_slog"><rect x="1071" y="4561" width="129" height="25"/><text x="1135.5" y="4578">ilObjUser\setLogin</text></g>
<g id="n_sln"><rect x="1058" y="4611" width="155" height="25"/><text x="1135.5" y="4628">ilObjUser\setLastname</text></g>
<g id="n_slpp"><rect x="1055" y="4663" width="161" height="39"/><text x="1135.5" y="4679.8">ilObjUser\setLastProfile</text><text x="1135.5" y="4694.5">Prompt</text></g>
<g id="n_slu"><rect x="1052" y="4728" width="166" height="25"/><text x="1135" y="4745">ilObjUser\setLastUpdate</text></g>
<g id="n_slat"><rect x="1063" y="4779" width="145" height="25"/><text x="1135.5" y="4796">ilObjUser\setLatitude</text></g>
<g id="n_slz"><rect x="1046" y="4830" width="179" height="25"/><text x="1135.5" y="4847">ilObjUser\setLocationZoom</text></g>
<g id="n_slon"><rect x="1058" y="4881" width="155" height="25"/><text x="1135.5" y="4898">ilObjUser\setLongitude</text></g>
<g id="n_smat"><rect x="1049" y="4931" width="172" height="25"/><text x="1135" y="4948">ilObjUser\setMatriculation</text></g>
<g id="n_spw"><rect x="1062" y="4982" width="146" height="25"/><text x="1135" y="4999">ilObjUser\setPasswd</text></g>
<g id="n_spet"><rect x="1016" y="5033" width="238" height="25"/><text x="1135" y="5050">ilObjUser\setPasswordEncodingType</text></g>
<g id="n_sps"><rect x="1046" y="5083" width="178" height="25"/><text x="1135" y="5100">ilObjUser\setPasswordSalt</text></g>
<g id="n_lti"><rect x="1052" y="5135" width="167" height="40"/><text x="1135.5" y="5152.3">ilAuthProviderLTI\getKey</text><text x="1135.5" y="5167">ByAuthMode</text></g>
<g id="n_sidp"><rect x="1037" y="5200" width="196" height="25"/><text x="1135" y="5217">ilSamlIdp\getKeyByAuthMode</text></g>
<g id="n_ldap"><rect x="1025" y="5251" width="221" height="25"/><text x="1135.5" y="5268">ilLDAPServer\getKeyByAuthMode</text></g>
<g id="n_sssc"><rect x="1303" y="408" width="247" height="40"/><text class="l" x="1314" y="425.3">ilSystemStyleSettings</text><text x="1426.5" y="440">\getSystemStyleCategoryAssignments</text></g>
<g id="n_gdsi"><rect x="1356" y="474" width="141" height="39"/><text x="1426.5" y="490.8">ilSystemStyleConfig</text><text x="1426.5" y="505.5">\getDefaultStyleId</text></g>
<g id="n_am"><rect x="1331" y="540" width="191" height="39"/><text x="1426.5" y="556.8">ilSystemStyleMessageStack</text><text x="1426.5" y="571.5">\addMessage</text></g>
<g id="n_nr"><rect x="1346" y="1320" width="161" height="25"/><text x="1426.5" y="1337">ilDBInterface\numRows</text></g>
<g id="n_q"><rect x="1359" y="1485" width="135" height="25"/><text x="1426.5" y="1502">ilDBInterface\quote</text></g>
<g id="n_qu"><rect x="1359" y="1536" width="135" height="25"/><text x="1426.5" y="1553">ilDBInterface\query</text></g>
<g id="n_fa"><rect x="1342" y="1585" width="169" height="25"/><text x="1426.5" y="1602">ilDBInterface\fetchAssoc</text></g>
<g id="n_int"><rect x="1356" y="1636" width="140" height="25"/><text x="1426" y="1653">ILIAS\Repository\int</text></g>
<g id="n_gop"><rect x="1333" y="2300" width="187" height="25"/><text x="1426.5" y="2317">ilObject\getObjectProperties</text></g>
<g id="n_gdski"><rect x="1355" y="2499" width="142" height="40"/><text x="1426" y="2516.3">ilSystemStyleConfig</text><text x="1426" y="2531">\getDefaultSkinId</text></g>
<g id="n_glogin"><rect x="1335" y="4554" width="182" height="39"/><text x="1426" y="4570.8">ILIAS\UI\examples\Symbol</text><text x="1426" y="4585.5">\Glyph\Login\login</text></g>
<g id="n_mvt"><rect x="1599" y="70" width="177" height="39"/><text x="1687.5" y="86.8">ilStartUpGUI\mergeValues</text><text x="1687.5" y="101.5">Trafo</text></g>
<g id="n_saet"><rect x="1599" y="192" width="177" height="40"/><text x="1687.5" y="209.3">ilStartUpGUI\sanitizeArray</text><text x="1687.5" y="224">ElementsTrafo</text></g>
<g id="n_str"><rect x="1617" y="1547" width="141" height="25"/><text x="1687.5" y="1564">ILIAS\Repository\str</text></g>
<g id="n_ssr"><rect x="1830" y="494" width="155" height="39"/><text x="1907.5" y="510.8">ilArrayUtil\stripSlashes</text><text x="1907.5" y="525.5">Recursive</text></g>
<g id="n_strip"><rect x="1832" y="1535" width="150" height="25"/><text x="1907" y="1552">ILIAS\Repository\strip</text></g>
<g id="n_isa"><rect x="1824" y="1585" width="166" height="25"/><text x="1907" y="1602">ILIAS\Repository\isArray</text></g>
<g id="n_ref"><rect x="2039" y="745" width="169" height="26"/><text x="2123.5" y="762.6">ILIAS\Repository\refinery</text></g>
<g id="n_ss"><rect x="2061" y="1433" width="124" height="26"/><text x="2123" y="1450.6">ilUtil\stripSlashes</text></g>
<g id="n_rhttp"><rect x="2049" y="1585" width="148" height="25"/><text x="2123" y="1602">ILIAS\Repository\http</text></g>
<g id="n_secs"><rect x="2256" y="1433" width="125" height="26"/><text x="2318.5" y="1450.6">ilUtil\secureString</text></g>
<g id="n_gst"><rect x="2443" y="1358" width="139" height="25"/><text x="2512.5" y="1375">ilUtil\getSecureTags</text></g>
<g id="n_mst"><rect x="2435" y="1409" width="155" height="25"/><text x="2512.5" y="1426">ilUtil\maskSecureTags</text></g>
<g id="n_ust"><rect x="2430" y="1460" width="168" height="25"/><text x="2514" y="1477">ilUtil\unmaskSecureTags</text></g>
<g id="n_ssh"><rect x="2439" y="1510" width="147" height="25"/><text x="2512.5" y="1527">ilUtil\stripScriptHTML</text></g>
<g id="n_mat"><rect x="2653" y="1358" width="154" height="25"/><text x="2730" y="1375">ilUtil\maskAttributeTag</text></g>
<g id="n_mtag"><rect x="2676" y="1409" width="107" height="25"/><text x="2729.5" y="1426">ilUtil\maskTag</text></g>
<g id="n_uat"><rect x="2645" y="1460" width="169" height="25"/><text x="2729.5" y="1477">ilUtil\unmaskAttributeTag</text></g>
<g id="n_ut"><rect x="2669" y="1510" width="121" height="25"/><text x="2729.5" y="1527">ilUtil\unmaskTag</text></g>
<g id="n_sl"><rect x="2862" y="1460" width="115" height="25"/><text x="2919.5" y="1477">ilUtil\secureLink</text></g>
</g>
</g>
</svg>
